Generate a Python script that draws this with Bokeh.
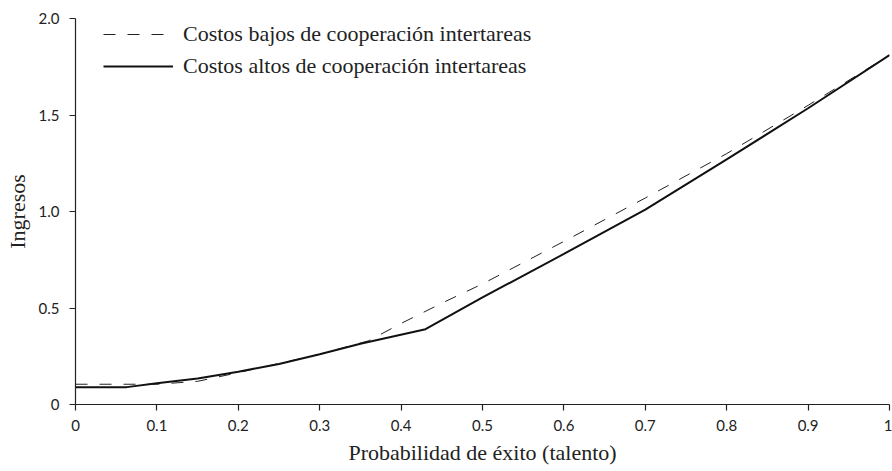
from bokeh.plotting import figure
from bokeh.models import Legend, LegendItem, Range1d, FixedTicker
from bokeh.embed import file_html
from bokeh.resources import INLINE

# Data
talent_high = [0.0, 0.063, 0.1, 0.15, 0.2, 0.25, 0.3, 0.35, 0.43, 0.5, 0.6, 0.7, 0.8, 0.9, 1.0]
income_high = [0.09, 0.09, 0.11, 0.135, 0.17, 0.21, 0.26, 0.315, 0.39, 0.555, 0.78, 1.01, 1.27, 1.535, 1.81]

talent_low = [0.0, 0.08, 0.1, 0.15, 0.2, 0.3, 0.36, 0.4, 0.45, 0.5, 0.6, 0.7, 0.8, 0.88, 0.9, 1.0]
income_low = [0.105, 0.105, 0.105, 0.12, 0.165, 0.26, 0.33, 0.42, 0.525, 0.625, 0.845, 1.07, 1.30, 1.50, 1.55, 1.81]

x_ticks = [0, 0.1, 0.2, 0.3, 0.4, 0.5, 0.6, 0.7, 0.8, 0.9, 1.0]
x_tick_labels = ["0", "0.1", "0.2", "0.3", "0.4", "0.5", "0.6", "0.7", "0.8", "0.9", "1"]
y_ticks = [0, 0.5, 1.0, 1.5, 2.0]
y_tick_labels = ["0", "0.5", "1.0", "1.5", "2.0"]

label_low = "Costos bajos de cooperación intertareas"
label_high = "Costos altos de cooperación intertareas"
x_title = "Probabilidad de éxito (talento)"
y_title = "Ingresos"

SERIF = "Liberation Serif"
SANS = "Lato"

p = figure(width=892, height=471, output_backend="svg", toolbar_location=None,
           x_range=Range1d(0, 1.0), y_range=Range1d(0, 2.0),
           min_border_left=75, min_border_top=18, min_border_right=3, min_border_bottom=67)
p.outline_line_color = None
p.grid.visible = False
p.background_fill_color = "white"
p.border_fill_color = "white"

r_low = p.line(talent_low, income_low, line_color="#222222", line_width=1.0, line_dash="12 12")
r_high = p.line(talent_high, income_high, line_color="#111111", line_width=2)

for ax in (p.xaxis[0], p.yaxis[0]):
    ax.axis_line_color = "#222222"
    ax.axis_line_width = 1.2
    ax.major_tick_line_color = "#222222"
    ax.major_tick_line_width = 1.2
    ax.major_tick_in = 0
    ax.major_tick_out = 6
    ax.minor_tick_line_color = None
    ax.major_label_text_font = SANS
    ax.major_label_text_font_size = "15px"
    ax.major_label_text_color = "#222222"
    ax.axis_label_text_font = SERIF
    ax.axis_label_text_font_style = "normal"
    ax.axis_label_text_font_size = "22px"
    ax.axis_label_text_color = "#222222"

p.xaxis.ticker = FixedTicker(ticks=x_ticks)
p.xaxis.major_label_overrides = {t: l for t, l in zip(x_ticks, x_tick_labels)}
p.yaxis.ticker = FixedTicker(ticks=y_ticks)
p.yaxis.major_label_overrides = {t: l for t, l in zip(y_ticks, y_tick_labels)}
p.xaxis.axis_label = x_title
p.yaxis.axis_label = y_title
p.xaxis.major_label_standoff = 9
p.xaxis.axis_label_standoff = 6
p.yaxis.major_label_standoff = 10
p.yaxis.major_label_orientation = "horizontal"
p.yaxis.axis_label_standoff = 6

legend = Legend(items=[LegendItem(label=label_low, renderers=[r_low]),
                       LegendItem(label=label_high, renderers=[r_high])],
                location=(28, 325))
legend.border_line_color = None
legend.background_fill_alpha = 0
legend.padding = 0
legend.margin = 0
legend.glyph_width = 70
legend.glyph_height = 20
legend.label_height = 20
legend.spacing = 6
legend.label_standoff = 10
legend.label_text_font = SERIF
legend.label_text_font_size = "22px"
legend.label_text_color = "#222222"
p.add_layout(legend)

open("out.html", "w").write(file_html(p, INLINE))
